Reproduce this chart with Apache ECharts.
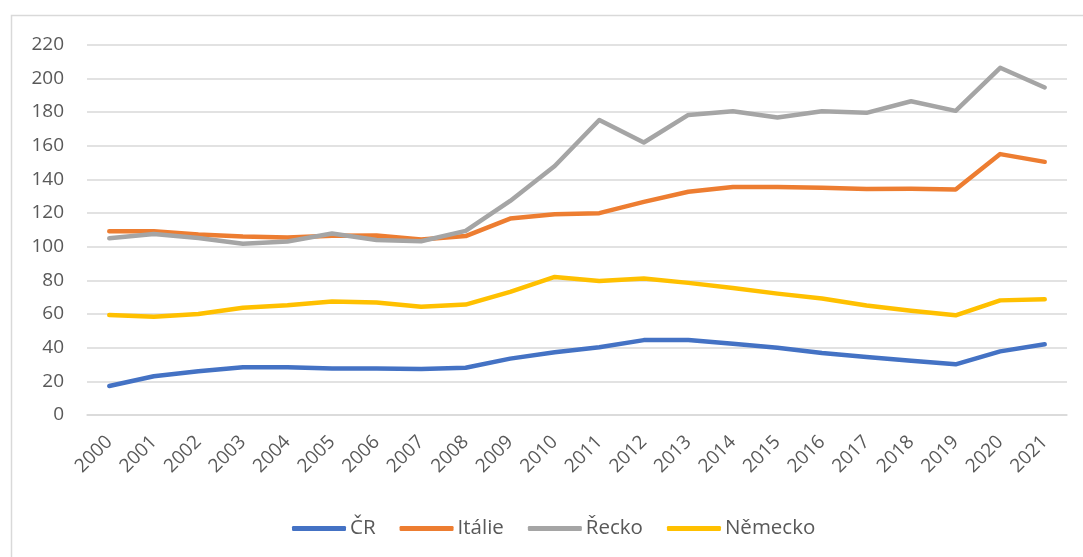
<!DOCTYPE html>
<html>
<head>
<meta charset="utf-8">
<script src="https://cdn.jsdelivr.net/npm/echarts@6/dist/echarts.min.js"></script>
<style>html,body{margin:0;padding:0;background:#fff;}#c{width:1083px;height:557px;}</style>
</head>
<body>
<div id="c"></div>
<script>
const years = ['2000','2001','2002','2003','2004','2005','2006','2007','2008','2009','2010','2011','2012','2013','2014','2015','2016','2017','2018','2019','2020','2021'];
const seriesNames = ['ČR','Itálie','Řecko','Německo'];
const cr      = [17.2, 23.0, 26.0, 28.3, 28.4, 27.7, 27.7, 27.3, 28.1, 33.5, 37.3, 40.2, 44.5, 44.6, 42.3, 40.0, 36.9, 34.4, 32.3, 30.1, 37.8, 42.0];
const italie  = [109.1, 109.2, 107.2, 106.0, 105.5, 106.5, 106.6, 104.2, 106.3, 116.7, 119.3, 119.9, 126.6, 132.6, 135.4, 135.4, 135.0, 134.3, 134.4, 134.0, 155.0, 150.4];
const recko   = [105.0, 107.5, 105.1, 101.7, 103.1, 107.8, 104.0, 103.2, 109.4, 127.2, 147.9, 175.3, 161.9, 178.3, 180.5, 176.7, 180.5, 179.5, 186.4, 180.7, 206.3, 194.6];
const nemecko = [59.4, 58.4, 60.0, 63.7, 65.2, 67.4, 66.8, 64.3, 65.6, 73.2, 82.0, 79.6, 81.1, 78.5, 75.5, 72.1, 69.2, 65.0, 61.9, 59.2, 68.1, 68.7];
const yTicks = {min: 0, max: 220, interval: 20};
const colors = ['#4472C4', '#ED7D31', '#A5A5A5', '#FFC000'];
const values = [cr, italie, recko, nemecko];

const chart = echarts.init(document.getElementById('c'), null, {renderer: 'canvas'});
const font = '"Open Sans", "Liberation Sans", sans-serif';
chart.setOption({
  animation: false,
  backgroundColor: '#ffffff',
  color: colors,
  graphic: [{
    type: 'rect', silent: true, z: -1,
    shape: {x: 11.5, y: 15.5, width: 1200, height: 700},
    style: {fill: 'none', stroke: '#d9d9d9', lineWidth: 1.5}
  }],
  grid: {left: 87, right: 16, top: 44.7, bottom: 142, containLabel: false},
  legend: {
    left: 287, top: 513,
    itemWidth: 54, itemHeight: 5, itemGap: 24,
    icon: 'roundRect',
    textStyle: {fontFamily: font, fontSize: 20.5, color: '#595959', padding: [0, 0, 0, -1]},
    data: seriesNames
  },
  xAxis: {
    type: 'category', boundaryGap: true, data: years,
    axisLine: {show: true, lineStyle: {color: '#d9d9d9', width: 1.5}},
    axisTick: {show: false},
    axisLabel: {rotate: 45, margin: 24, fontFamily: font, fontSize: 19, color: '#595959', interval: 0}
  },
  yAxis: {
    type: 'value', min: yTicks.min, max: yTicks.max, interval: yTicks.interval,
    axisLine: {show: false}, axisTick: {show: false},
    splitLine: {lineStyle: {color: '#d9d9d9', width: 1.5}},
    axisLabel: {margin: 23, fontFamily: font, fontSize: 19, color: '#595959'}
  },
  series: seriesNames.map((n, i) => ({
    name: n, type: 'line', data: values[i],
    showSymbol: false, symbol: 'none',
    lineStyle: {width: 4.5, color: colors[i], cap: 'round', join: 'round'},
    itemStyle: {color: colors[i]}
  }))
});
</script>
</body>
</html>
